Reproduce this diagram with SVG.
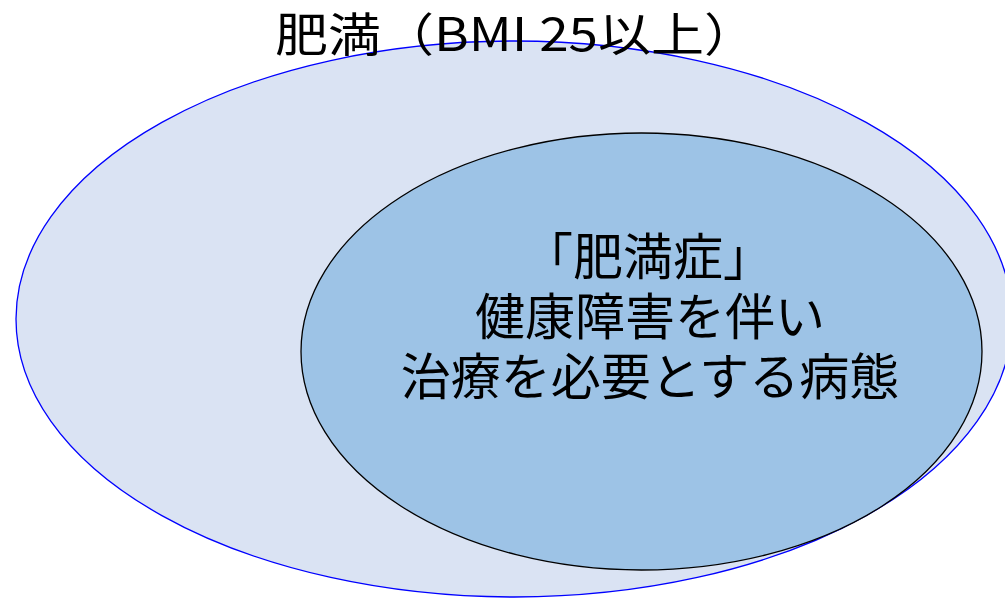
<svg xmlns="http://www.w3.org/2000/svg" width="1005" height="599" viewBox="0 0 1005 599">
<style>
text{font-family:"Noto Sans CJK JP","Noto Sans",sans-serif;fill:#000;text-anchor:middle}
.t{font-size:46px}
.i{font-size:50px}
</style>
<rect width="1005" height="599" fill="#fff"/>
<g id="outer">
<ellipse cx="514" cy="319" rx="498" ry="278" fill="#dae3f3" stroke="#0000ff" stroke-width="1.3"/>
</g>
<g id="inner">
<ellipse cx="641.5" cy="351.5" rx="340.5" ry="218.5" fill="#9dc3e6" stroke="#000" stroke-width="1.3"/>
<text class="i" x="648" y="275">「肥満症」</text>
<text class="i" x="650" y="335">健康障害を伴い</text>
<text class="i" x="650" y="395">治療を必要とする病態</text>
</g>
<g id="title">
<text class="t" x="516" y="51" textLength="482" lengthAdjust="spacingAndGlyphs">肥満（BMI 25以上）</text>
</g>
<g id="connectors"></g>
</svg>
